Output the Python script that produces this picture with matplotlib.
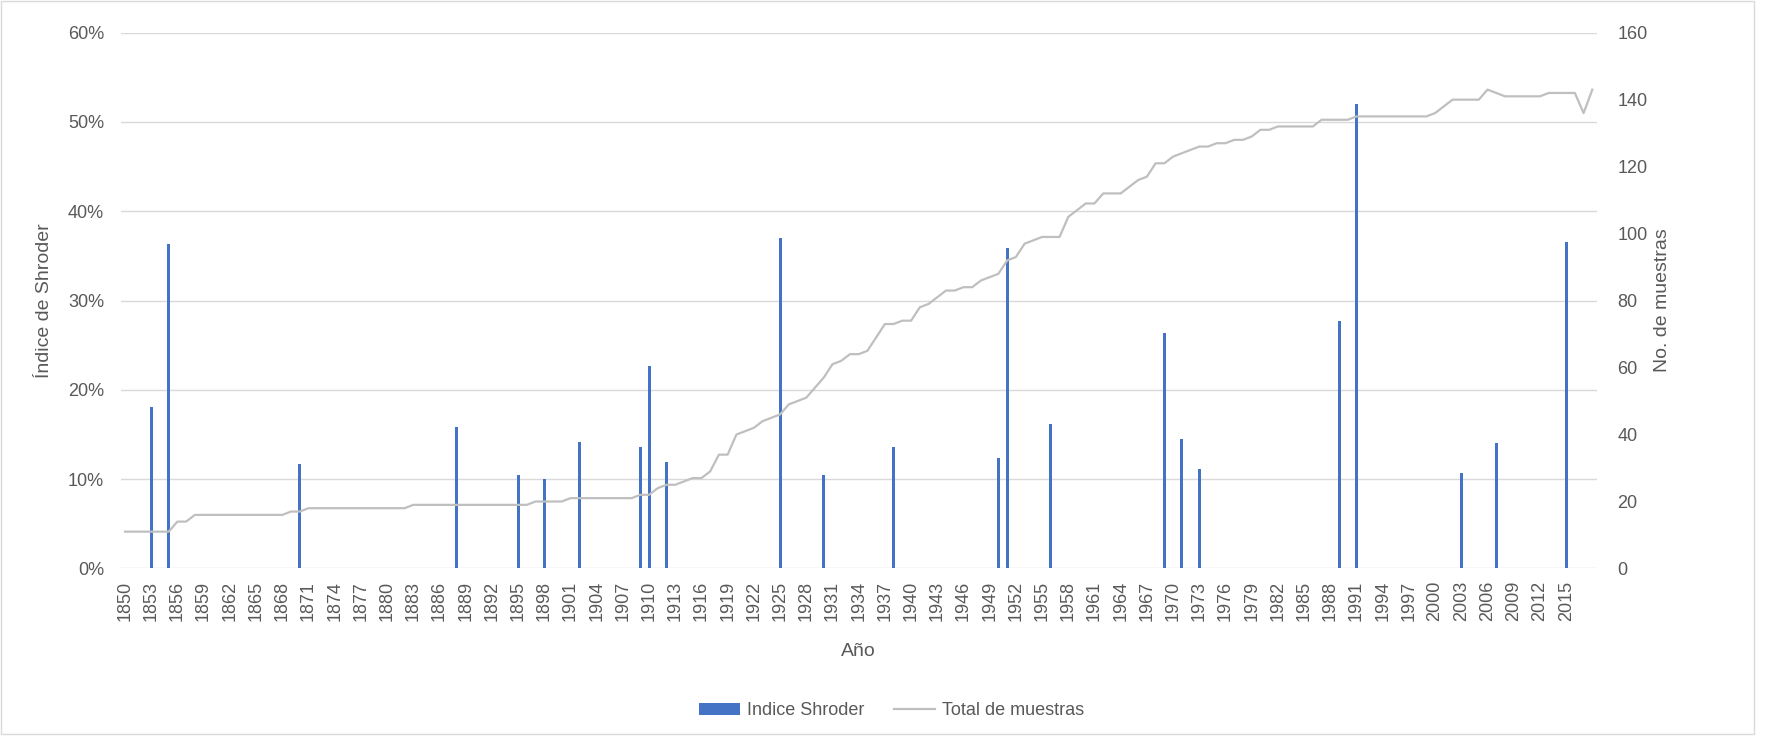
import matplotlib.pyplot as plt
from matplotlib.patches import Patch, Rectangle
from matplotlib.lines import Line2D
from matplotlib.ticker import FuncFormatter

# Años del eje de categorías
anios = list(range(1850, 2019))

# Índice de Shroder (%) en los años con valor
anios_indice = [1853, 1855, 1870, 1888, 1895, 1898, 1902, 1909, 1910, 1912,
                1925, 1930, 1938, 1950, 1951, 1956, 1969, 1971, 1973, 1989,
                1991, 2003, 2007, 2015]
indice_shroder = [18.1, 36.3, 11.7, 15.8, 10.5, 10.0, 14.2, 13.6, 22.7, 11.9,
                  37.0, 10.5, 13.6, 12.4, 35.9, 16.2, 26.4, 14.5, 11.1, 27.7,
                  52.0, 10.7, 14.1, 36.6]

# Total de muestras por año (1850-2018)
total_muestras = [
    11, 11, 11, 11, 11, 11, 14, 14, 16, 16,           # 1850-1859
    16, 16, 16, 16, 16, 16, 16, 16, 16, 17,           # 1860-1869
    17, 18, 18, 18, 18, 18, 18, 18, 18, 18,           # 1870-1879
    18, 18, 18, 19, 19, 19, 19, 19, 19, 19,           # 1880-1889
    19, 19, 19, 19, 19, 19, 19, 20, 20, 20,           # 1890-1899
    20, 21, 21, 21, 21, 21, 21, 21, 21, 22,           # 1900-1909
    22, 24, 25, 25, 26, 27, 27, 29, 34, 34,           # 1910-1919
    40, 41, 42, 44, 45, 46, 49, 50, 51, 54,           # 1920-1929
    57, 61, 62, 64, 64, 65, 69, 73, 73, 74,           # 1930-1939
    74, 78, 79, 81, 83, 83, 84, 84, 86, 87,           # 1940-1949
    88, 92, 93, 97, 98, 99, 99, 99, 105, 107,         # 1950-1959
    109, 109, 112, 112, 112, 114, 116, 117, 121, 121,  # 1960-1969
    123, 124, 125, 126, 126, 127, 127, 128, 128, 129,  # 1970-1979
    131, 131, 132, 132, 132, 132, 132, 134, 134, 134,  # 1980-1989
    134, 135, 135, 135, 135, 135, 135, 135, 135, 135,  # 1990-1999
    136, 138, 140, 140, 140, 140, 143, 142, 141, 141,  # 2000-2009
    141, 141, 141, 142, 142, 142, 142, 136, 143,       # 2010-2018
]

AZUL = '#4472C4'
GRIS_LINEA = '#BFBFBF'
GRIS_GRID = '#D9D9D9'
GRIS_TEXTO = '#595959'

plt.rcParams['font.family'] = ['Liberation Sans', 'DejaVu Sans']

fig = plt.figure(figsize=(17.69, 7.38), dpi=100)
ax = fig.add_axes([0.0682, 0.2297, 0.8344, 0.7260])
ax2 = ax.twinx()

ax.bar(anios_indice, indice_shroder, width=0.34, color=AZUL, zorder=2)
ax2.plot(anios, total_muestras, color=GRIS_LINEA, lw=1.6, zorder=3)

ax.set_xlim(1849.5, 2018.5)
ax.set_ylim(0, 60)
ax2.set_ylim(0, 160)

ax.set_yticks(range(0, 61, 10))
ax.yaxis.set_major_formatter(FuncFormatter(lambda v, p: f'{v:.0f}%'))
ax2.set_yticks(range(0, 161, 20))
ax.set_xticks(range(1850, 2016, 3))
ax.set_xticklabels([str(a) for a in range(1850, 2016, 3)], rotation=90)

ax.set_axisbelow(True)
ax.yaxis.grid(True, color=GRIS_GRID, lw=1.0)
for a in (ax, ax2):
    for s in a.spines.values():
        s.set_visible(False)

ax.tick_params(axis='x', length=0, pad=9, labelsize=13, colors=GRIS_TEXTO)
ax.tick_params(axis='y', length=0, pad=12, labelsize=13, colors=GRIS_TEXTO)
ax2.tick_params(axis='y', length=0, pad=15, labelsize=13, colors=GRIS_TEXTO)

ax.set_xlabel('Año', fontsize=14, color=GRIS_TEXTO)
ax.xaxis.set_label_coords(0.5, -0.139)
ax.set_ylabel('Índice de Shroder', fontsize=14, color=GRIS_TEXTO)
ax.yaxis.set_label_coords(-0.0459, 0.5)
ax2.set_ylabel('No. de muestras', fontsize=14, color=GRIS_TEXTO, rotation=90)
ax2.yaxis.set_label_coords(1.0388, 0.5)

handles = [Patch(facecolor=AZUL, edgecolor='none'),
           Line2D([0], [0], color=GRIS_LINEA, lw=1.6)]
fig.legend(handles, ['Indice Shroder', 'Total de muestras'], loc='center',
           bbox_to_anchor=(0.504, 0.0366), ncol=2, frameon=False, fontsize=13,
           labelcolor=GRIS_TEXTO, handlelength=2.3, handletextpad=0.4,
           columnspacing=1.6)

# marco del área del gráfico
fig.patches.append(Rectangle((0.0008, 0.0054), 0.9908, 0.9932,
                             transform=fig.transFigure, fill=False,
                             edgecolor=GRIS_GRID, lw=1.0))

fig.savefig('out.png', dpi=100)
